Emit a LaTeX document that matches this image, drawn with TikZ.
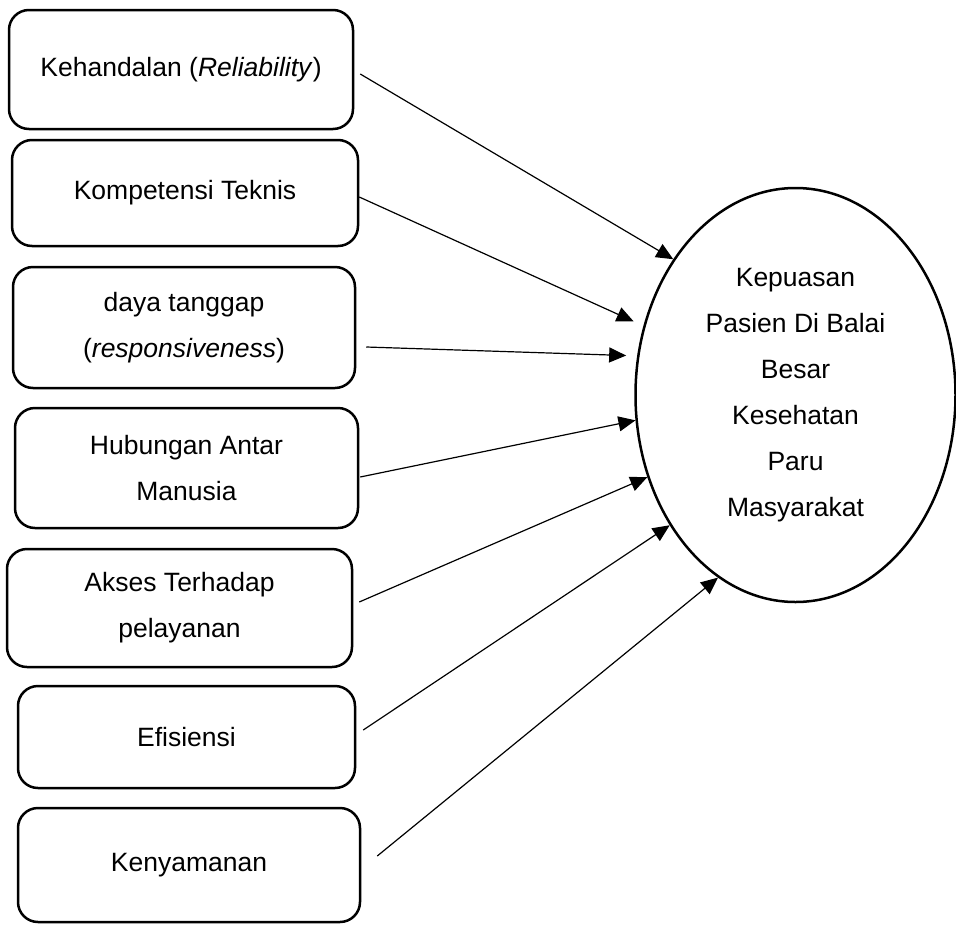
\documentclass[tikz,border=0pt]{standalone}
\usepackage{fontspec}
\setmainfont{Liberation Sans}
\usetikzlibrary{shapes,arrows.meta,positioning}

\begin{document}
\begin{tikzpicture}[
    x=1pt, y=-1pt,
    font=\fontsize{26.5}{46}\selectfont,
    box/.style={rectangle, draw, line width=2.5pt, rounded corners=20pt, align=center, inner sep=0pt},
    result/.style={ellipse, draw, line width=2.5pt, minimum width=320pt, minimum height=414pt, align=center, inner sep=0pt},
    arrow/.style={-{Triangle[length=17pt,width=15pt]}, line width=1.2pt}
]
    \useasboundingbox (0,0) rectangle (956,924);

    % variabel bebas
    \node[box, minimum width=344pt, minimum height=119pt] (handal) at (181,69.5) {Kehandalan (\textit{Reliability})};
    \node[box, minimum width=346pt, minimum height=106pt] (teknis) at (185,193) {Kompetensi Teknis};
    \node[box, minimum width=342pt, minimum height=121pt] (tanggap) at (184,327.5) {daya tanggap\\(\textit{responsiveness})};
    \node[box, minimum width=343pt, minimum height=120pt] (antar) at (186.5,468) {Hubungan Antar\\Manusia};
    \node[box, minimum width=345pt, minimum height=118pt] (akses) at (179.5,608) {Akses Terhadap\\pelayanan};
    \node[box, minimum width=337pt, minimum height=102pt] (efisien) at (186.5,737) {Efisiensi};
    \node[box, minimum width=342pt, minimum height=114pt] (nyaman) at (189,865) {Kenyamanan};

    % variabel terikat
    \node[result] (puas) at (795.5,395) {Kepuasan\\Pasien Di Balai\\Besar\\Kesehatan\\Paru\\Masyarakat};

    \draw[arrow] ([shift={(6,4.5)}]handal.east) -- (puas.132);
    \draw[arrow] ([shift={(0,4)}]teknis.east) -- ([xshift=-11pt]puas.154);
    \draw[arrow] ([shift={(10,19.5)}]tanggap.east) -- ([xshift=-11pt]puas.166);
    \draw[arrow] ([shift={(1,9)}]antar.east) -- (puas.189);
    \draw[arrow] ([shift={(6,-6)}]akses.east) -- (puas.209);
    \draw[arrow] ([shift={(7,-7)}]efisien.east) -- (puas.226);
    \draw[arrow] ([shift={(16,-9)}]nyaman.east) -- (puas.247);
\end{tikzpicture}
\end{document}
